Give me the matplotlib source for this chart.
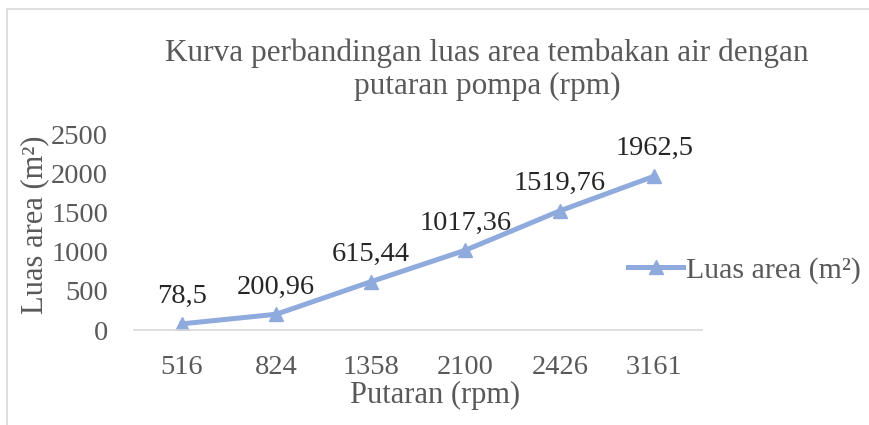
import matplotlib.pyplot as plt
from matplotlib.patches import Rectangle

# data
putaran = ["516", "824", "1358", "2100", "2426", "3161"]
luas_area = [78.5, 200.96, 615.44, 1017.36, 1519.76, 1962.5]
labels = ["78,5", "200,96", "615,44", "1017,36", "1519,76", "1962,5"]

line_color = "#8faadc"
text_color = "#595959"

plt.rcParams['font.family'] = ['Liberation Serif', 'DejaVu Serif']

fig = plt.figure(figsize=(8.7, 4.25), dpi=100)
ax = fig.add_axes([0.1545, 0.2235, 0.652, 0.4612])

# outer chart frame (cut off on right and bottom like the screenshot)
fig.patches.append(Rectangle((0.008, -0.1), 1.2, 1.079, transform=fig.transFigure,
                             fill=False, edgecolor="#d9d9d9", linewidth=1.2))

x = range(len(putaran))
ax.plot(x, luas_area, color=line_color, linewidth=3.6, marker="^", markersize=10,
        label="Luas area (m²)")

for i, (v, lab) in enumerate(zip(luas_area, labels)):
    ax.annotate(lab, (i, v), xytext=(0, 15), textcoords="offset points",
                ha="center", va="baseline", fontsize=20.5, color="#262626")

ax.set_xlim(-0.5, len(putaran) - 0.5)
ax.set_ylim(0, 2500)
ax.set_yticks([0, 500, 1000, 1500, 2000, 2500])
ax.set_xticks(list(x))
ax.set_xticklabels(putaran)
ax.tick_params(length=0, labelsize=20.5, labelcolor=text_color)
ax.tick_params(axis="x", pad=18)
ax.tick_params(axis="y", pad=19)

for s in ["top", "right", "left"]:
    ax.spines[s].set_visible(False)
ax.spines["bottom"].set_color("#d9d9d9")
ax.spines["bottom"].set_linewidth(1.2)

fig.text(435 / 870, 1 - 395 / 425, "Putaran (rpm)", fontsize=22, color=text_color,
         ha="center", va="center")
fig.text(35 / 870, 1 - 225 / 425, "Luas area (m²)", fontsize=22, color=text_color,
         ha="center", va="center", rotation=90)
fig.text(487 / 870, 1 - 70 / 425,
         "Kurva perbandingan luas area tembakan air dengan\nputaran pompa (rpm)",
         fontsize=22.5, color=text_color, ha="center", va="center",
         multialignment="center", linespacing=1.2)

fig.legend(loc="center left", bbox_to_anchor=(628 / 870, 1 - 270 / 425), frameon=False,
           fontsize=21.5, labelcolor=text_color, handlelength=1.85, handletextpad=0.1,
           borderpad=0, borderaxespad=0)

fig.savefig("out.png", dpi=100)
